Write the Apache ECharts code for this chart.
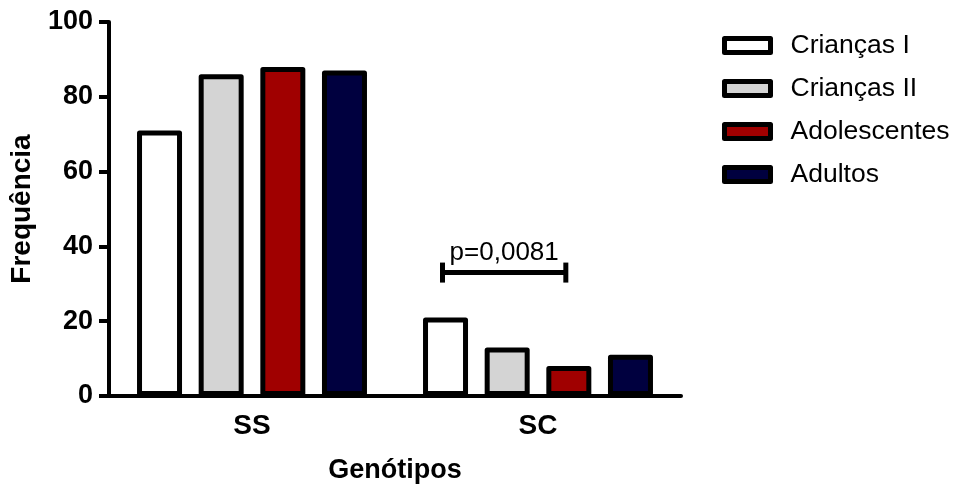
<!DOCTYPE html>
<html lang="pt">
<head>
	<meta charset="UTF-8">
	<title>Genótipos</title>
	<script src="https://cdn.jsdelivr.net/npm/echarts@6/dist/echarts.min.js"></script>
	<style>
		html, body { margin: 0; padding: 0; background: #fff; }
		#chart { width: 954px; height: 489px; }
	</style>
</head>
<body>
	<div id="chart"></div>
	<script>
		// dados
		var categorias = ['SS', 'SC'];
		var grupos = ['Crianças I', 'Crianças II', 'Adolescentes', 'Adultos'];
		var criancasI = [71, 21];
		var criancasII = [86, 13];
		var adolescentes = [88, 8];
		var adultos = [87, 11];
		var yTicks = [0, 20, 40, 60, 80, 100];
		// barra de significância: categoria, barra inicial, barra final, altura, texto
		var sigCategoria = ['SC'];
		var sigBarras = [0, 2];
		var sigAltura = [33];
		var sigTexto = ['p=0,0081'];

		var cores = ['#ffffff', '#d4d4d4', '#a00000', '#00003f'];
		var valores = [criancasI, criancasII, adolescentes, adultos];

		var BAR_W = 45;
		var BAR_GAP = 0.37;
		var FONTE = 'Liberation Sans, Arial, sans-serif';

		var series = grupos.map(function (nome, i) {
			return {
				name: nome,
				type: 'bar',
				barWidth: BAR_W,
				barGap: (BAR_GAP * 100) + '%',
				data: valores[i],
				itemStyle: {
					color: cores[i],
					borderColor: '#000',
					borderWidth: 5,
					borderJoin: 'round'
				},
				emphasis: { disabled: true },
				animation: false
			};
		});

		// barra do p-valor
		series.push({
			type: 'custom',
			name: 'sig',
			silent: true,
			animation: false,
			z: 5,
			data: [[sigCategoria[0], sigAltura[0]]],
			renderItem: function (params, api) {
				var c = api.coord([api.value(0), api.value(1)]);
				var passo = BAR_W * (1 + BAR_GAP);
				var x1 = c[0] + (sigBarras[0] - 1.5) * passo - 3;
				var x2 = c[0] + (sigBarras[1] - 1.5) * passo - 3;
				var y = c[1];
				var s = { stroke: '#000', lineWidth: 5 };
				return {
					type: 'group',
					children: [
						{ type: 'line', shape: { x1: x1, y1: y, x2: x2, y2: y }, style: s },
						{ type: 'line', shape: { x1: x1, y1: y - 10, x2: x1, y2: y + 10 }, style: s },
						{ type: 'line', shape: { x1: x2, y1: y - 10, x2: x2, y2: y + 10 }, style: s },
						{
							type: 'text',
							style: {
								x: (x1 + x2) / 2, y: y - 7,
								text: sigTexto[0],
								fill: '#000',
								font: '26px ' + FONTE,
								textAlign: 'center',
								textVerticalAlign: 'bottom'
							}
						}
					]
				};
			}
		});

		var option = {
			backgroundColor: '#fff',
			animation: false,
			grid: { left: 109, top: 22, width: 572, height: 379 },
			legend: {
				data: grupos,
				orient: 'vertical',
				left: 722,
				top: 32,
				padding: 0,
				itemWidth: 46,
				itemHeight: 14,
				itemGap: 16,
				icon: 'rect',
				itemStyle: { borderColor: '#000', borderWidth: 5 },
				textStyle: { fontSize: 26.5, fontFamily: FONTE, color: '#000', padding: [0, 0, 0, 15] }
			},
			xAxis: {
				type: 'category',
				data: categorias,
				name: 'Genótipos',
				nameLocation: 'middle',
				nameGap: 61,
				nameTextStyle: { fontSize: 27, fontWeight: 'bold', fontFamily: FONTE, color: '#000' },
				axisLine: { lineStyle: { color: '#000', width: 4 } },
				axisTick: { alignWithLabel: true, length: 10, lineStyle: { color: '#000', width: 3 } },
				axisLabel: { fontSize: 28, fontWeight: 'bold', fontFamily: FONTE, color: '#000', margin: 16 }
			},
			yAxis: {
				type: 'value',
				min: yTicks[0],
				max: yTicks[yTicks.length - 1],
				interval: yTicks[1] - yTicks[0],
				name: 'Frequência',
				nameLocation: 'middle',
				nameGap: 73,
				nameTextStyle: { fontSize: 28, fontWeight: 'bold', fontFamily: FONTE, color: '#000' },
				splitLine: { show: false },
				axisLine: { show: true, lineStyle: { color: '#000', width: 4 } },
				axisTick: { show: true, length: 10, lineStyle: { color: '#000', width: 4 } },
				axisLabel: { fontSize: 27, fontWeight: 'bold', fontFamily: FONTE, color: '#000', margin: 16 }
			},
			series: series
		};

		var chart = echarts.init(document.getElementById('chart'));
		chart.setOption(option);
	</script>
</body>
</html>
